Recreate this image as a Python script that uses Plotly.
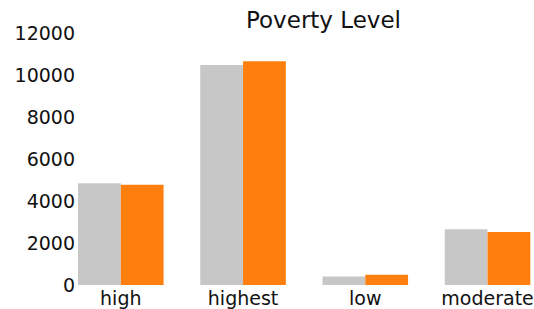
import plotly.graph_objects as go

categories = ["high", "highest", "low", "moderate"]
series_a = [4850, 10480, 400, 2660]
series_b = [4770, 10660, 490, 2520]
y_ticks = [0, 2000, 4000, 6000, 8000, 10000, 12000]
y_tick_labels = ["0", "2000", "4000", "6000", "8000", "10000", "12000"]

W, H = 534, 309
L, R, T, B = 78, 0, 33, 24
PW, PH = W - L - R, H - T - B

fig = go.Figure()
fig.add_trace(go.Bar(x=categories, y=series_a, marker_color="#c7c7c7", marker_line_width=0,
                     offset=-0.35, width=0.35, name="a"))
fig.add_trace(go.Bar(x=categories, y=series_b, marker_color="#ff7f0e", marker_line_width=0,
                     offset=0, width=0.35, name="b"))
fig.update_layout(
    width=W, height=H,
    margin=dict(l=L, r=R, t=T, b=B, pad=0),
    plot_bgcolor="white", paper_bgcolor="white",
    showlegend=False,
    font=dict(family="DejaVu Sans", size=19, color="#111"),
    barmode="overlay",
)
fig.add_annotation(text="Poverty Level", xref="paper", yref="paper",
                   x=(323 - L) / PW, y=1 + (T - 20) / PH, xanchor="center", yanchor="middle",
                   showarrow=False, font=dict(size=23, color="#111"))
fig.update_xaxes(range=[-0.35, 3.38], showgrid=False, showline=False, ticks="", zeroline=False,
                 tickfont=dict(size=19))
fig.update_yaxes(range=[0, 12000], tickvals=y_ticks, ticktext=y_tick_labels, showgrid=False,
                 showline=False, ticks="", zeroline=False, tickfont=dict(size=19),
                 ticklabelstandoff=2)
fig.write_html("out.html", config={"displayModeBar": False},
               post_script="document.body.style.margin='0';document.body.style.overflow='hidden';")
